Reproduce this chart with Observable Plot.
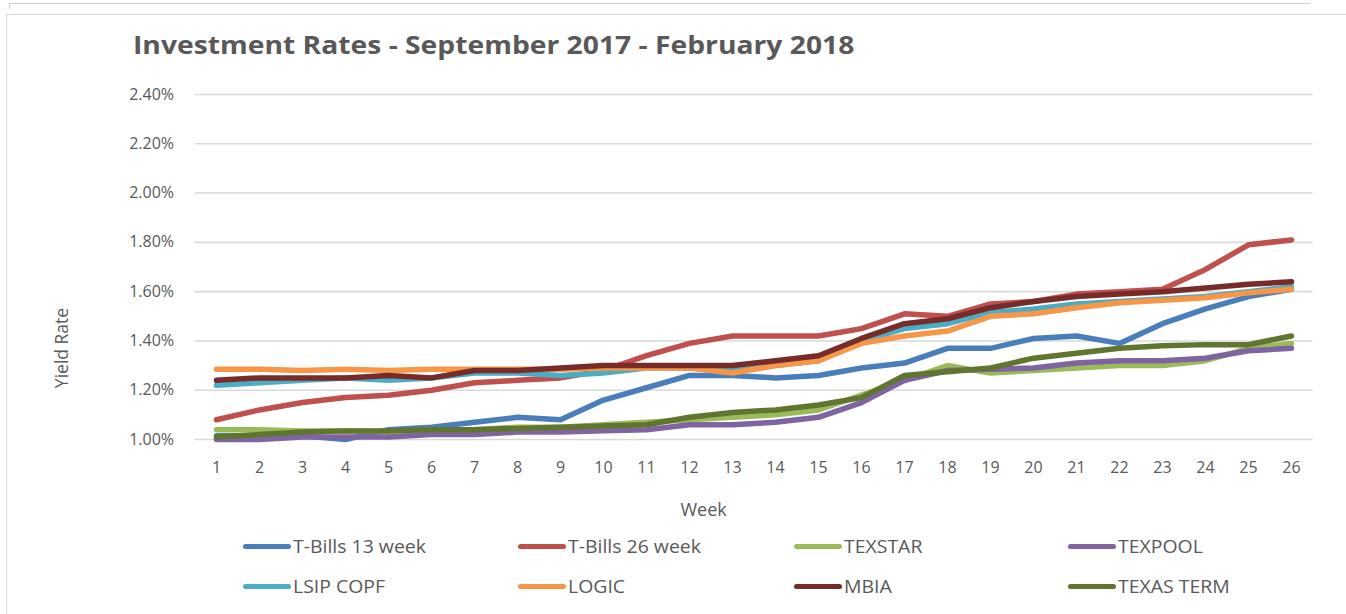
<!DOCTYPE html>
<html>
<head>
<meta charset="utf-8">
<script src="https://cdn.jsdelivr.net/npm/d3@7"></script>
<script src="https://cdn.jsdelivr.net/npm/@observablehq/plot@0.6"></script>
<style>
  html, body { margin: 0; padding: 0; background: #fff; }
  body { width: 1346px; height: 614px; position: relative; overflow: hidden; font-family: "Open Sans", sans-serif; color: #595959; }
  #topline { position: absolute; left: 9px; top: 3px; width: 1300px; height: 5px; border-top: 1px solid #cfcfcf; border-left: 1px solid #cfcfcf; }
  #frame { position: absolute; left: 6px; top: 14px; width: 1345px; height: 620px; border-top: 1.5px solid #d6d6d6; border-left: 1.5px solid #d6d6d6; }
  #title { position: absolute; left: 133px; top: 27px; font-weight: 700; font-size: 25px; color: #595959; white-space: nowrap; transform: scaleX(1.13); transform-origin: left center; }
  #chart { position: absolute; left: 0; top: 0; }
  #legend { position: absolute; left: 0; top: 0; width: 1346px; height: 614px; pointer-events: none; }
  .item { position: absolute; display: flex; align-items: center; font-size: 18px; color: #595959; white-space: nowrap; }
  .swatch { width: 48px; height: 5px; border-radius: 3px; margin-right: 2px; }
  .lab { display: inline-block; transform: scaleX(1.08); transform-origin: left center; }
</style>
</head>
<body>
<div id="topline"></div>
<div id="frame"></div>
<div id="title">Investment Rates - September 2017 - February 2018</div>
<div id="chart"></div>
<div id="legend"></div>
<script>
const weeks = d3.range(1, 27);
const seriesNames = ["T-Bills 13 week", "T-Bills 26 week", "TEXSTAR", "TEXPOOL", "LSIP COPF", "LOGIC", "MBIA", "TEXAS TERM"];
const seriesColors = ["#4A7EBB", "#C0504D", "#9BBB59", "#8064A2", "#4BACC6", "#F79646", "#772C2A", "#5F7530"];
const yTicks = [1.0, 1.2, 1.4, 1.6, 1.8, 2.0, 2.2, 2.4];

const tbills13 = [1.015, 1.015, 1.015, 1.00, 1.04, 1.05, 1.07, 1.09, 1.08, 1.16, 1.21, 1.26, 1.26, 1.25, 1.26, 1.29, 1.31, 1.37, 1.37, 1.41, 1.42, 1.39, 1.47, 1.53, 1.58, 1.61];
const tbills26 = [1.08, 1.12, 1.15, 1.17, 1.18, 1.20, 1.23, 1.24, 1.25, 1.28, 1.34, 1.39, 1.42, 1.42, 1.42, 1.45, 1.51, 1.50, 1.55, 1.56, 1.59, 1.60, 1.61, 1.69, 1.79, 1.81];
const texstar = [1.04, 1.04, 1.035, 1.035, 1.03, 1.04, 1.04, 1.05, 1.05, 1.06, 1.07, 1.08, 1.09, 1.10, 1.12, 1.18, 1.24, 1.30, 1.27, 1.28, 1.29, 1.30, 1.30, 1.32, 1.37, 1.39];
const texpool = [1.00, 1.00, 1.01, 1.01, 1.01, 1.02, 1.02, 1.03, 1.03, 1.035, 1.04, 1.06, 1.06, 1.07, 1.09, 1.15, 1.24, 1.28, 1.285, 1.29, 1.31, 1.32, 1.32, 1.33, 1.36, 1.37];
const lsip = [1.22, 1.23, 1.24, 1.25, 1.24, 1.25, 1.27, 1.27, 1.26, 1.27, 1.29, 1.29, 1.28, 1.30, 1.32, 1.40, 1.45, 1.47, 1.515, 1.53, 1.55, 1.56, 1.57, 1.58, 1.60, 1.62];
const logic = [1.285, 1.285, 1.28, 1.285, 1.28, 1.285, 1.285, 1.285, 1.285, 1.29, 1.29, 1.29, 1.27, 1.30, 1.32, 1.39, 1.42, 1.44, 1.50, 1.51, 1.535, 1.555, 1.565, 1.575, 1.595, 1.61];
const mbia = [1.24, 1.25, 1.25, 1.25, 1.26, 1.25, 1.28, 1.28, 1.29, 1.30, 1.30, 1.30, 1.30, 1.32, 1.34, 1.41, 1.47, 1.49, 1.535, 1.56, 1.58, 1.59, 1.60, 1.615, 1.63, 1.64];
const texasTerm = [1.01, 1.02, 1.03, 1.035, 1.035, 1.04, 1.04, 1.045, 1.05, 1.055, 1.06, 1.09, 1.11, 1.12, 1.14, 1.17, 1.26, 1.275, 1.29, 1.33, 1.35, 1.37, 1.38, 1.385, 1.385, 1.42];

const seriesValues = [tbills13, tbills26, texstar, texpool, lsip, logic, mbia, texasTerm];
const rows = [];
seriesNames.forEach((name, i) => {
  weeks.forEach((w, j) => rows.push({series: name, week: w, value: seriesValues[i][j]}));
});

const chart = Plot.plot({
  width: 1346,
  height: 490,
  marginLeft: 194.5,
  marginRight: 33.5,
  marginTop: 94,
  marginBottom: 51,
  style: {background: "transparent", fontFamily: "Open Sans, sans-serif", fontSize: "16px", color: "#595959", overflow: "visible"},
  x: {domain: [0.5, 26.5], label: null},
  y: {domain: [1.0, 2.4], label: null},
  color: {domain: seriesNames, range: seriesColors},
  marks: [
    Plot.ruleY(yTicks, {stroke: "#d9d9d9", strokeWidth: 1.6}),
    Plot.axisX({ticks: weeks, tickFormat: d => String(d), tickSize: 0, tickPadding: 22, label: null, fill: "#595959", fontSize: 16}),
    Plot.axisY({ticks: yTicks, tickFormat: d => d.toFixed(2) + "%", tickSize: 0, tickPadding: 21, label: null, fill: "#595959", fontSize: 16}),
    ...seriesNames.map(name => Plot.line(rows.filter(r => r.series === name), {
      x: "week", y: "value", stroke: "series", strokeWidth: 5.5, strokeLinecap: "round", strokeLinejoin: "round",
      style: "filter: drop-shadow(1px 2px 1.5px rgba(0,0,0,0.28))"
    })),
    Plot.text(["Week"], {frameAnchor: "bottom-left", dx: 485.5, dy: 76, text: d => d, fontSize: 18, fill: "#595959", style: "letter-spacing: 0.8px"}),
    Plot.text(["Yield Rate"], {frameAnchor: "left", textAnchor: "middle", dx: -133, dy: 81, rotate: -90, text: d => d, fontSize: 17.5, fill: "#595959", style: "letter-spacing: 1px"})
  ]
});
document.getElementById("chart").appendChild(chart);

const legend = document.getElementById("legend");
const colX = [243, 518, 794, 1068];
const rowY = [546, 586];
seriesNames.forEach((name, i) => {
  const el = document.createElement("div");
  el.className = "item";
  el.style.left = colX[i % 4] + "px";
  el.style.top = (rowY[Math.floor(i / 4)] - 13) + "px";
  el.style.height = "26px";
  el.innerHTML = `<span class="swatch" style="background:${seriesColors[i]}"></span><span class="lab">${name}</span>`;
  legend.appendChild(el);
});
</script>
</body>
</html>
